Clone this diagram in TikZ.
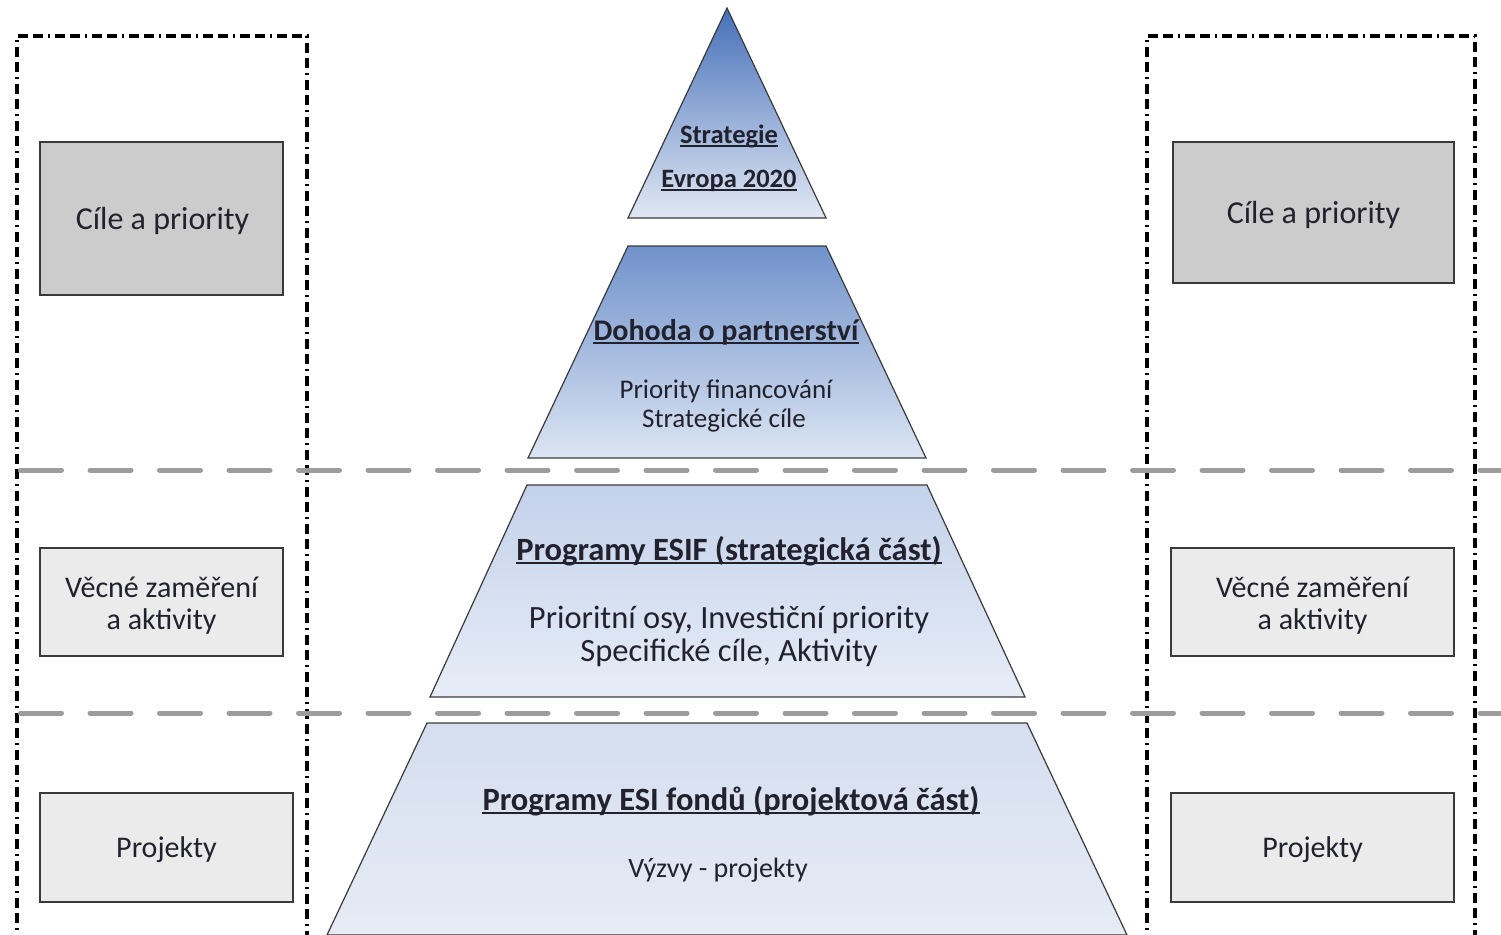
\documentclass[tikz,border=0pt]{standalone}
\usepackage{fontspec}
\setmainfont{Carlito}
\usetikzlibrary{calc}
\definecolor{txt}{HTML}{22222E}
\definecolor{edge}{HTML}{3A3A3A}
\definecolor{sepgray}{HTML}{9C9C9C}
\definecolor{boxdark}{HTML}{CCCCCC}
\definecolor{boxlight}{HTML}{EBEBEB}
\definecolor{bA}{HTML}{4670B9}
\definecolor{bB}{HTML}{E1E8F4}
\definecolor{bC}{HTML}{7092CB}
\definecolor{bD}{HTML}{DCE5F3}
\definecolor{bE}{HTML}{C3D1EA}
\definecolor{bF}{HTML}{E7EDF7}
\definecolor{bG}{HTML}{D5DEEF}
\definecolor{bH}{HTML}{E6EBF5}
\begin{document}
\begin{tikzpicture}[x=1pt,y=-1pt,
  layer/.style={draw=edge, line width=1.2pt},
  ttl/.style={inner sep=0pt, anchor=base, text=txt, font=\bfseries\fontsize{#1}{#1}\selectfont},
  body/.style={inner sep=0pt, anchor=base, text=txt, font=\fontsize{#1}{#1}\selectfont},
  uline/.style={draw=txt, line width=2.2pt},
  sepline/.style={draw=sepgray, line width=5pt, line cap=round, dash pattern=on 41pt off 28.5pt},
  ddbox/.style={draw=black, line width=3.2pt, dash pattern=on 10pt off 5pt on 10pt off 5pt on 2pt off 5pt},
  sidebox/.style={draw=edge, line width=1.4pt, fill=#1, inner sep=0pt},
  boxtext/.style={text=txt, align=center, inner sep=0pt, font=\fontsize{#1}{32}\selectfont}
]
\useasboundingbox (0,0) rectangle (1501,934);
\clip (0,0) rectangle (1501,934);

% pyramid layers
\shadedraw[layer, top color=bA, bottom color=bB] (727,8) -- (826,218) -- (628,218) -- cycle;
\shadedraw[layer, top color=bC, bottom color=bD] (628,246) -- (826,246) -- (926,458) -- (528,458) -- cycle;
\shadedraw[layer, top color=bE, bottom color=bF] (527,485) -- (927,485) -- (1025,697) -- (430,697) -- cycle;
\shadedraw[layer, top color=bG, bottom color=bH] (427,723) -- (1027,723) -- (1127,935) -- (327,935) -- cycle;

% dash-dot frames
\draw[ddbox] (17,960) -- (17,36) -- (307,36) -- (307,960);
\draw[ddbox] (1147,960) -- (1147,36) -- (1475,36) -- (1475,960);

% separators
\draw[sepline] (20.5,470) -- (1510,470);
\draw[sepline] (20.5,713) -- (1510,713);

% side boxes
\node[sidebox=boxdark, minimum width=243pt, minimum height=153pt] (lgoal) at (161.5,218.5) {};
\node[sidebox=boxdark, minimum width=281pt, minimum height=141pt] (rgoal) at (1313.5,212.5) {};
\node[sidebox=boxlight, minimum width=243pt, minimum height=108pt] (lfocus) at (161.5,602) {};
\node[sidebox=boxlight, minimum width=283pt, minimum height=108pt] (rfocus) at (1312.5,602) {};
\node[sidebox=boxlight, minimum width=253pt, minimum height=109pt] (lproj) at (166.5,847.5) {};
\node[sidebox=boxlight, minimum width=283pt, minimum height=109pt] (rproj) at (1312.5,847.5) {};

\node[boxtext=32] (lgoalt) at ($(lgoal.center)+(1,2)$) {Cíle a priority};
\node[boxtext=32] (rgoalt) at ($(rgoal.center)+(0,2)$) {Cíle a priority};
\node[boxtext=30] (lfocust) at ($(lfocus.center)+(0,4)$) {Věcné zaměření\\a aktivity};
\node[boxtext=30] (rfocust) at ($(rfocus.center)+(0,4)$) {Věcné zaměření\\a aktivity};
\node[boxtext=30] (lprojt) at ($(lproj.center)+(0,2)$) {Projekty};
\node[boxtext=30] (rprojt) at ($(rproj.center)+(0,2)$) {Projekty};

% pyramid texts
\node[ttl=26.5] (s1) at (729,143) {Strategie};
\node[ttl=26.5] (s2) at (729,187) {Evropa 2020};
\node[ttl=30] (d1) at (726,340) {Dohoda o partnerství};
\node[body=27] (d2) at (726,398) {Priority financování};
\node[body=27] (d3) at (724,427) {Strategické cíle};
\node[ttl=32.5] (p1) at (729,560) {Programy ESIF (strategická část)};
\node[body=32.5] (p2) at (729,628) {Prioritní osy, Investiční priority};
\node[body=32.5] (p3) at (729,661) {Specifické cíle, Aktivity};
\node[ttl=32.5] (q1) at (731,810) {Programy ESI fondů (projektová část)};
\node[body=28] (q2) at (718,877) {Výzvy - projekty};

% underlines
\foreach \n in {s1,s2,d1,p1,q1}{
  \draw[uline] ($(\n.base west)+(0,3)$) -- ($(\n.base east)+(0,3)$);
}
\end{tikzpicture}
\end{document}
